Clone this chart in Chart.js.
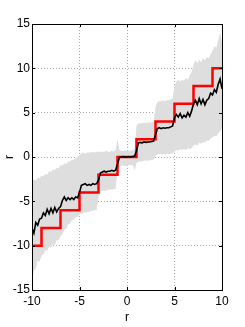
<!DOCTYPE html>
<html>
<head>
<meta charset="utf-8">
<script src="https://cdn.jsdelivr.net/npm/chart.js@4.4.1/dist/chart.umd.min.js"></script>
<style>
  html, body { margin: 0; padding: 0; background: #ffffff; }
  #wrap { width: 245px; height: 327px; }
</style>
</head>
<body>
<div id="wrap"><canvas id="plot" width="245" height="327"></canvas></div>
<script>
// sample positions of the mean curve and of the band
var xs = [-10,-9.8,-9.6,-9.4,-9.2,-9,-8.8,-8.6,-8.4,-8.2,-8,-7.8,-7.6,-7.4,-7.2,-7,-6.8,-6.6,-6.4,-6.2,
  -6,-5.8,-5.6,-5.4,-5.2,-5,-4.8,-4.6,-4.4,-4.2,-4,-3.8,-3.6,-3.4,-3.2,-3,-2.8,-2.6,-2.4,-2.2,
  -2,-1.8,-1.6,-1.4,-1.2,-1,-0.8,-0.6,-0.4,-0.2,0,0.2,0.4,0.6,0.8,1,1.2,1.4,1.6,1.8,
  2,2.2,2.4,2.6,2.8,3,3.2,3.4,3.6,3.8,4,4.2,4.4,4.6,4.8,5,5.2,5.4,5.6,5.8,
  6,6.2,6.4,6.6,6.8,7,7.2,7.4,7.6,7.8,8,8.2,8.4,8.6,8.8,9,9.2,9.4,9.6,9.8,10];

// black mean curve
var meanY = [-8.0,-8.6,-7.4,-7.7,-7.0,-6.9,-6.3,-6.6,-5.9,-6.4,-5.8,-6.3,-5.7,-6.2,-5.8,-5.6,-4.9,-4.5,-4.9,-4.6,
  -4.8,-4.6,-4.8,-4.5,-4.6,-4.0,-3.2,-3.1,-3.0,-3.2,-3.1,-3.2,-3.0,-3.1,-3.0,-2.6,-1.8,-1.7,-1.6,-1.7,
  -1.6,-1.6,-1.5,-1.6,-1.5,-0.8,-0.05,0.0,0.05,0.0,0.0,0.05,0.0,0.05,0.1,0.7,1.6,1.65,1.6,1.7,
  1.65,1.7,1.7,1.75,1.8,2.5,3.2,3.3,3.2,3.3,3.25,3.3,3.3,3.4,3.5,4.4,4.8,4.5,4.9,4.4,
  4.7,4.5,5.0,4.6,5.2,6.0,6.4,5.9,6.6,6.0,6.5,5.9,6.4,6.6,7.2,7.0,7.6,7.3,8.2,8.8,7.7];

// gray band, upper and lower edge
var bandHigh = [-2.8,-2.5,-2.7,-2.3,-2.4,-2.1,-2.2,-1.9,-2.0,-1.6,-1.7,-1.4,-1.5,-1.2,-1.3,-0.9,-1.0,-0.7,-0.8,-0.5,
  -0.5,-0.3,-0.3,-0.1,0.0,0.2,0.4,0.5,0.4,0.5,0.5,0.5,0.6,0.5,0.6,0.6,0.6,0.6,0.6,0.7,
  0.6,0.6,0.7,0.6,0.8,2.0,0.8,0.7,0.7,0.7,0.7,0.7,0.7,0.8,0.9,3.5,3.8,3.8,3.8,3.9,
  3.8,3.9,3.9,3.9,4.0,5.6,6.2,6.3,6.3,6.4,6.3,6.4,6.4,6.5,6.6,8.0,8.5,8.7,8.5,8.7,
  8.6,8.9,8.7,9.2,9.6,10.4,10.9,10.6,11.0,10.7,11.2,10.9,11.3,11.1,11.6,12.0,12.5,12.3,13.2,14.0,13.0];

var bandLow = [-14.2,-12.8,-12.6,-11.7,-11.8,-11.1,-11.0,-10.5,-10.6,-10.1,-10.2,-9.8,-9.9,-9.4,-9.4,-8.9,-8.7,-8.2,-8.1,-7.6,
  -7.5,-7.1,-7.1,-6.8,-6.8,-6.5,-6.4,-6.3,-6.3,-6.2,-6.2,-6.1,-6.1,-6.0,-6.0,-4.6,-3.9,-3.8,-3.8,-3.8,
  -3.7,-3.7,-3.7,-3.6,-3.6,-1.6,-1.1,-1.0,-1.0,-1.0,-1.0,-0.9,-0.9,-0.9,-1.5,-0.7,-0.5,-0.5,-0.5,-0.4,
  -0.4,-0.4,-0.4,-0.3,-0.3,0.1,0.3,0.3,0.3,0.3,0.3,0.4,0.3,0.4,0.4,0.6,0.8,0.7,0.9,0.8,
  0.9,0.8,1.0,0.9,1.0,1.3,1.4,1.3,1.6,1.5,1.7,1.6,1.9,1.8,2.1,2.2,2.4,2.3,2.7,2.9,3.2];

// red staircase: value holds from each x until the next one
var stepX = [-10,-9,-7,-5,-3,-1,1,3,5,7,9,10];
var stepY = [-10,-8,-6,-4,-2,0,2,4,6,8,10,10];

var xTicks = [-10,-5,0,5,10];
var yTicks = [-15,-10,-5,0,5,10,15];

var tickFont = "'Liberation Sans Narrow', 'Liberation Sans', Arial, sans-serif";

function toPoints(xv, yv) {
    var pts = [];
    for (var i = 0; i < xv.length; i++) {
        pts.push({x: xv[i], y: yv[i]});
    }
    return pts;
}

// box around the axes with short inward ticks, drawn after everything
var boxPlugin = {
    id: 'axesBox',
    afterDraw: function (chart) {
        var ctx = chart.ctx;
        var a = chart.chartArea;
        var sx = chart.scales.x, sy = chart.scales.y;
        ctx.save();
        ctx.lineWidth = 1;
        ctx.strokeStyle = '#000000';
        ctx.strokeRect(Math.round(a.left) + 0.5, Math.round(a.top) + 0.5,
            Math.round(a.right - a.left), Math.round(a.bottom - a.top));
        ctx.beginPath();
        for (var i = 0; i < xTicks.length; i++) {
            var px = Math.round(sx.getPixelForValue(xTicks[i])) + 0.5;
            ctx.moveTo(px, a.bottom); ctx.lineTo(px, a.bottom - 3);
            ctx.moveTo(px, a.top); ctx.lineTo(px, a.top + 3);
        }
        for (var j = 0; j < yTicks.length; j++) {
            var py = Math.round(sy.getPixelForValue(yTicks[j])) + 0.5;
            ctx.moveTo(a.left, py); ctx.lineTo(a.left + 3, py);
            ctx.moveTo(a.right, py); ctx.lineTo(a.right - 3, py);
        }
        ctx.stroke();
        ctx.restore();
    }
};

function gridColor(ctx) {
    var v = ctx.tick ? ctx.tick.value : null;
    if (v === -10 && ctx.scale.axis === 'x') return 'rgba(0,0,0,0)';
    if (v === 10 && ctx.scale.axis === 'x') return 'rgba(0,0,0,0)';
    if ((v === -15 || v === 15) && ctx.scale.axis === 'y') return 'rgba(0,0,0,0)';
    return '#a8a8a8';
}

var data = {
    datasets: [
        {
            label: 'low',
            data: toPoints(xs, bandLow),
            borderWidth: 0,
            borderColor: 'rgba(0,0,0,0)',
            pointRadius: 0,
            fill: false,
            order: 4
        },
        {
            label: 'high',
            data: toPoints(xs, bandHigh),
            borderWidth: 0,
            borderColor: 'rgba(0,0,0,0)',
            backgroundColor: '#dedede',
            pointRadius: 0,
            fill: '-1',
            order: 3
        },
        {
            label: 'step',
            data: toPoints(stepX, stepY),
            stepped: 'before',
            borderColor: '#ff0000',
            borderWidth: 2.5,
            pointRadius: 0,
            fill: false,
            order: 2
        },
        {
            label: 'mean',
            data: toPoints(xs, meanY),
            borderColor: '#000000',
            borderWidth: 1.6,
            pointRadius: 0,
            tension: 0,
            fill: false,
            order: 1
        }
    ]
};

var options = {
    responsive: false,
    animation: false,
    events: [],
    layout: { padding: { left: 0, right: 23, top: 24, bottom: 0 } },
    plugins: { legend: { display: false }, tooltip: { enabled: false } },
    scales: {
        x: {
            type: 'linear',
            min: -10, max: 10,
            afterFit: function (s) { s.height = 37; },
            afterBuildTicks: function (s) { s.ticks = xTicks.map(function (v) { return {value: v}; }); },
            ticks: { color: '#000', font: { family: tickFont, size: 12 }, padding: 4, maxRotation: 0 },
            grid: { color: gridColor, drawTicks: false, lineWidth: 1 },
            border: { display: false, dash: [1, 2] },
            title: { display: true, text: 'r', color: '#000', font: { family: tickFont, size: 12 }, padding: { top: 0, bottom: 2 } }
        },
        y: {
            type: 'linear',
            min: -15, max: 15,
            afterFit: function (s) { s.width = 32; },
            afterBuildTicks: function (s) { s.ticks = yTicks.map(function (v) { return {value: v}; }); },
            ticks: { color: '#000', font: { family: tickFont, size: 12 }, padding: 2 },
            grid: { color: gridColor, drawTicks: false, lineWidth: 1 },
            border: { display: false, dash: [1, 2] },
            title: { display: true, text: 'r', color: '#000', font: { family: tickFont, size: 12 }, padding: { top: 2, bottom: 0 } }
        }
    }
};

var ctx = document.getElementById('plot');
var chart = new Chart(ctx, { type: 'line', data: data, options: options, plugins: [boxPlugin] });
</script>
</body>
</html>
